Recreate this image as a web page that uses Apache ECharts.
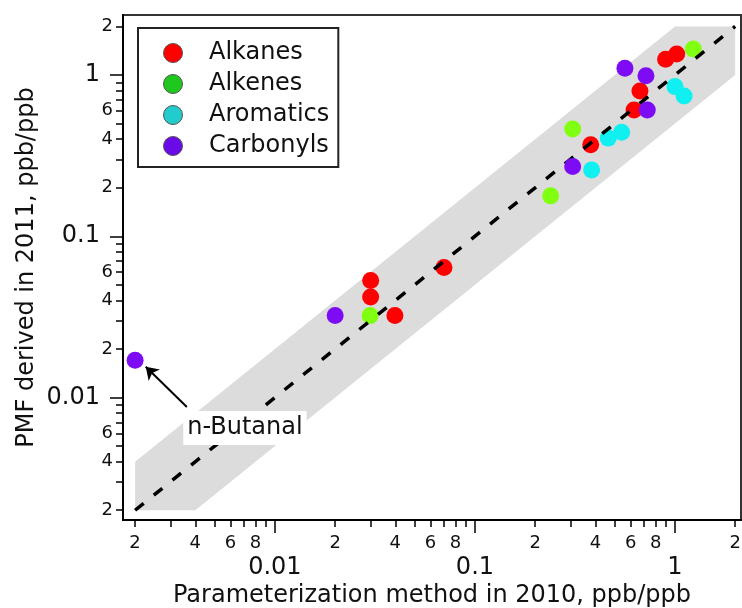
<!DOCTYPE html>
<html>
<head>
<meta charset="utf-8">
<script src="https://cdn.jsdelivr.net/npm/echarts@6/dist/echarts.min.js"></script>
<style>
  html, body { margin: 0; padding: 0; background: #fff; }
  #chart { width: 742px; height: 608px; }
</style>
</head>
<body>
<div id="chart"></div>
<script>
var FONT = "'DejaVu Sans', sans-serif";

// data (ppb/ppb)
var alkanesX = [0.898, 1.02, 0.668, 0.624, 0.379, 0.0301, 0.0301, 0.0398, 0.070];
var alkanesY = [1.25, 1.35, 0.796, 0.607, 0.369, 0.0532, 0.0420, 0.0323, 0.0641];
var alkenesX = [1.235, 0.308, 0.239, 0.0299];
var alkenesY = [1.45, 0.463, 0.178, 0.0322];
var aromaticsX = [1.0, 1.11, 0.464, 0.541, 0.383];
var aromaticsY = [0.847, 0.741, 0.406, 0.442, 0.258];
var carbonylsX = [0.562, 0.716, 0.727, 0.308, 0.0200, 0.002];
var carbonylsY = [1.10, 0.99, 0.607, 0.271, 0.0323, 0.0170];

// factor-of-2 band and 1:1 line
var bandX = [0.002, 0.004, 2, 2, 1, 0.002];
var bandY = [0.002, 0.002, 1, 2, 2, 0.004];
var oneToOne = [0.002, 2];

// n-Butanal annotation
var noteText = 'n-Butanal';
var noteAt = [0.00708, 0.00647];
var arrowFrom = [0.00363, 0.00873];
var arrowTo = [0.00226, 0.0155];

// tick marks and labels
var minorTicks = [0.002, 0.003, 0.004, 0.005, 0.006, 0.007, 0.008, 0.009,
                  0.02, 0.03, 0.04, 0.05, 0.06, 0.07, 0.08, 0.09,
                  0.2, 0.3, 0.4, 0.5, 0.6, 0.7, 0.8, 0.9, 2];
var majorTicks = [0.01, 0.1, 1];
var majorLabels = ['0.01', '0.1', '1'];
var xMinorLabels = [0.002, 0.004, 0.006, 0.008, 0.02, 0.04, 0.06, 0.08, 0.2, 0.4, 0.6, 0.8, 2];
var yMinorLabels = [0.002, 0.004, 0.006, 0.02, 0.04, 0.06, 0.2, 0.4, 0.6, 2];

var xMin = 0.00174, xMax = 2.138;
var yMin = 0.00174, yMax = 2.355;

function pairs(xs, ys) {
    var out = [];
    for (var i = 0; i < xs.length; i++) {
        out.push([xs[i], ys[i]]);
    }
    return out;
}

function leadDigit(v) {
    var p = Math.pow(10, Math.floor(Math.log10(v) + 1e-9));
    return String(Math.round(v / p));
}

function majorText(v) {
    for (var i = 0; i < majorTicks.length; i++) {
        if (Math.abs(v - majorTicks[i]) < majorTicks[i] * 1e-6) return majorLabels[i];
    }
    return '';
}

function minorAxis(dim, min, max, labels, margin) {
    return {
        type: 'log',
        position: dim === 'x' ? 'bottom' : 'left',
        min: min,
        max: max,
        axisLine: { show: true, lineStyle: { color: '#000', width: 2 } },
        axisTick: { show: true, length: 7, lineStyle: { color: '#000', width: 1.5 }, customValues: minorTicks },
        axisLabel: {
            show: true, customValues: labels, margin: margin, hideOverlap: false,
            formatter: leadDigit,
            fontSize: 18, fontFamily: FONT, color: '#111'
        },
        splitLine: { show: false },
        minorTick: { show: false }
    };
}

function majorAxis(dim, min, max, margin) {
    return {
        type: 'log',
        position: dim === 'x' ? 'bottom' : 'left',
        min: min,
        max: max,
        axisLine: { show: false },
        axisTick: { show: true, length: 13, lineStyle: { color: '#000', width: 1.5 }, customValues: majorTicks },
        axisLabel: {
            show: true, customValues: majorTicks, margin: margin, hideOverlap: false,
            formatter: majorText,
            fontSize: 24, fontFamily: FONT, color: '#111'
        },
        splitLine: { show: false }
    };
}

var xMinor = minorAxis('x', xMin, xMax, xMinorLabels, 14);
xMinor.name = 'Parameterization method in 2010, ppb/ppb';
xMinor.nameLocation = 'middle';
xMinor.nameGap = 64;
xMinor.nameTextStyle = { fontSize: 24, fontFamily: FONT, color: '#111' };

var yMinor = minorAxis('y', yMin, yMax, yMinorLabels, 10);
yMinor.name = 'PMF derived in 2011, ppb/ppb';
yMinor.nameLocation = 'middle';
yMinor.nameGap = 84;
yMinor.nameTextStyle = { fontSize: 24, fontFamily: FONT, color: '#111' };

var colors = {
    Alkanes: '#ff0000',
    Alkenes: '#80ff10',
    Aromatics: '#10f0f0',
    Carbonyls: '#7d0cf5'
};

function scatter(name, xs, ys) {
    return {
        name: name,
        type: 'scatter',
        symbol: 'circle',
        symbolSize: 17,
        z: 3,
        data: pairs(xs, ys),
        itemStyle: { color: colors[name], opacity: 1 }
    };
}

var carbonyls = scatter('Carbonyls', carbonylsX, carbonylsY);
carbonyls.markLine = {
    silent: true,
    animation: false,
    symbol: ['none', 'arrow'],
    symbolSize: 12,
    lineStyle: { color: '#000', width: 2, type: 'solid' },
    label: { show: false },
    data: [[{ coord: arrowFrom }, { coord: arrowTo }]]
};
carbonyls.markPoint = {
    silent: true,
    animation: false,
    symbol: 'rect',
    symbolSize: 1,
    itemStyle: { color: 'rgba(0,0,0,0)' },
    label: {
        show: true, position: 'inside', formatter: noteText,
        fontSize: 24, fontFamily: FONT, color: '#111',
        backgroundColor: '#fff', padding: [5, 4, 5, 4]
    },
    data: [{ coord: noteAt }]
};
carbonyls.z = 5;

var chart = echarts.init(document.getElementById('chart'), null, { renderer: 'canvas' });
chart.setOption({
    animation: false,
    backgroundColor: '#fff',
    grid: {
        left: 123, right: 1, top: 15, bottom: 88,
        containLabel: false,
        outerBoundsMode: 'none',
        show: true, borderColor: '#333', borderWidth: 2, backgroundColor: 'transparent'
    },
    legend: {
        orient: 'vertical',
        left: 138,
        top: 28,
        padding: [13, 9, 9, 25],
        itemGap: 7,
        itemWidth: 62,
        itemHeight: 19,
        borderColor: '#222',
        borderWidth: 2,
        backgroundColor: '#fff',
        icon: 'circle',
        textStyle: { fontSize: 24, fontFamily: FONT, color: '#111' },
        data: [
            { name: 'Alkanes', itemStyle: { color: '#ff0000', borderColor: '#555', borderWidth: 1 } },
            { name: 'Alkenes', itemStyle: { color: '#1ec81e', borderColor: '#555', borderWidth: 1 } },
            { name: 'Aromatics', itemStyle: { color: '#22cccc', borderColor: '#555', borderWidth: 1 } },
            { name: 'Carbonyls', itemStyle: { color: '#6a0ae6', borderColor: '#555', borderWidth: 1 } }
        ]
    },
    xAxis: [xMinor, majorAxis('x', xMin, xMax, 36)],
    yAxis: [yMinor, majorAxis('y', yMin, yMax, 23)],
    series: [
        {
            name: 'band',
            type: 'custom',
            silent: true,
            z: 1,
            data: pairs(bandX, bandY),
            renderItem: function (params, api) {
                if (params.dataIndex !== 0) return null;
                var pts = [];
                for (var i = 0; i < bandX.length; i++) {
                    pts.push(api.coord([bandX[i], bandY[i]]));
                }
                return { type: 'polygon', shape: { points: pts }, style: { fill: '#dcdcdc' } };
            }
        },
        scatter('Alkanes', alkanesX, alkanesY),
        scatter('Alkenes', alkenesX, alkenesY),
        scatter('Aromatics', aromaticsX, aromaticsY),
        {
            name: '1:1',
            type: 'line',
            z: 4,
            silent: true,
            symbol: 'none',
            data: pairs(oneToOne, oneToOne),
            lineStyle: { color: '#000', width: 3.5, type: [11, 13] }
        },
        carbonyls
    ]
});
</script>
</body>
</html>
